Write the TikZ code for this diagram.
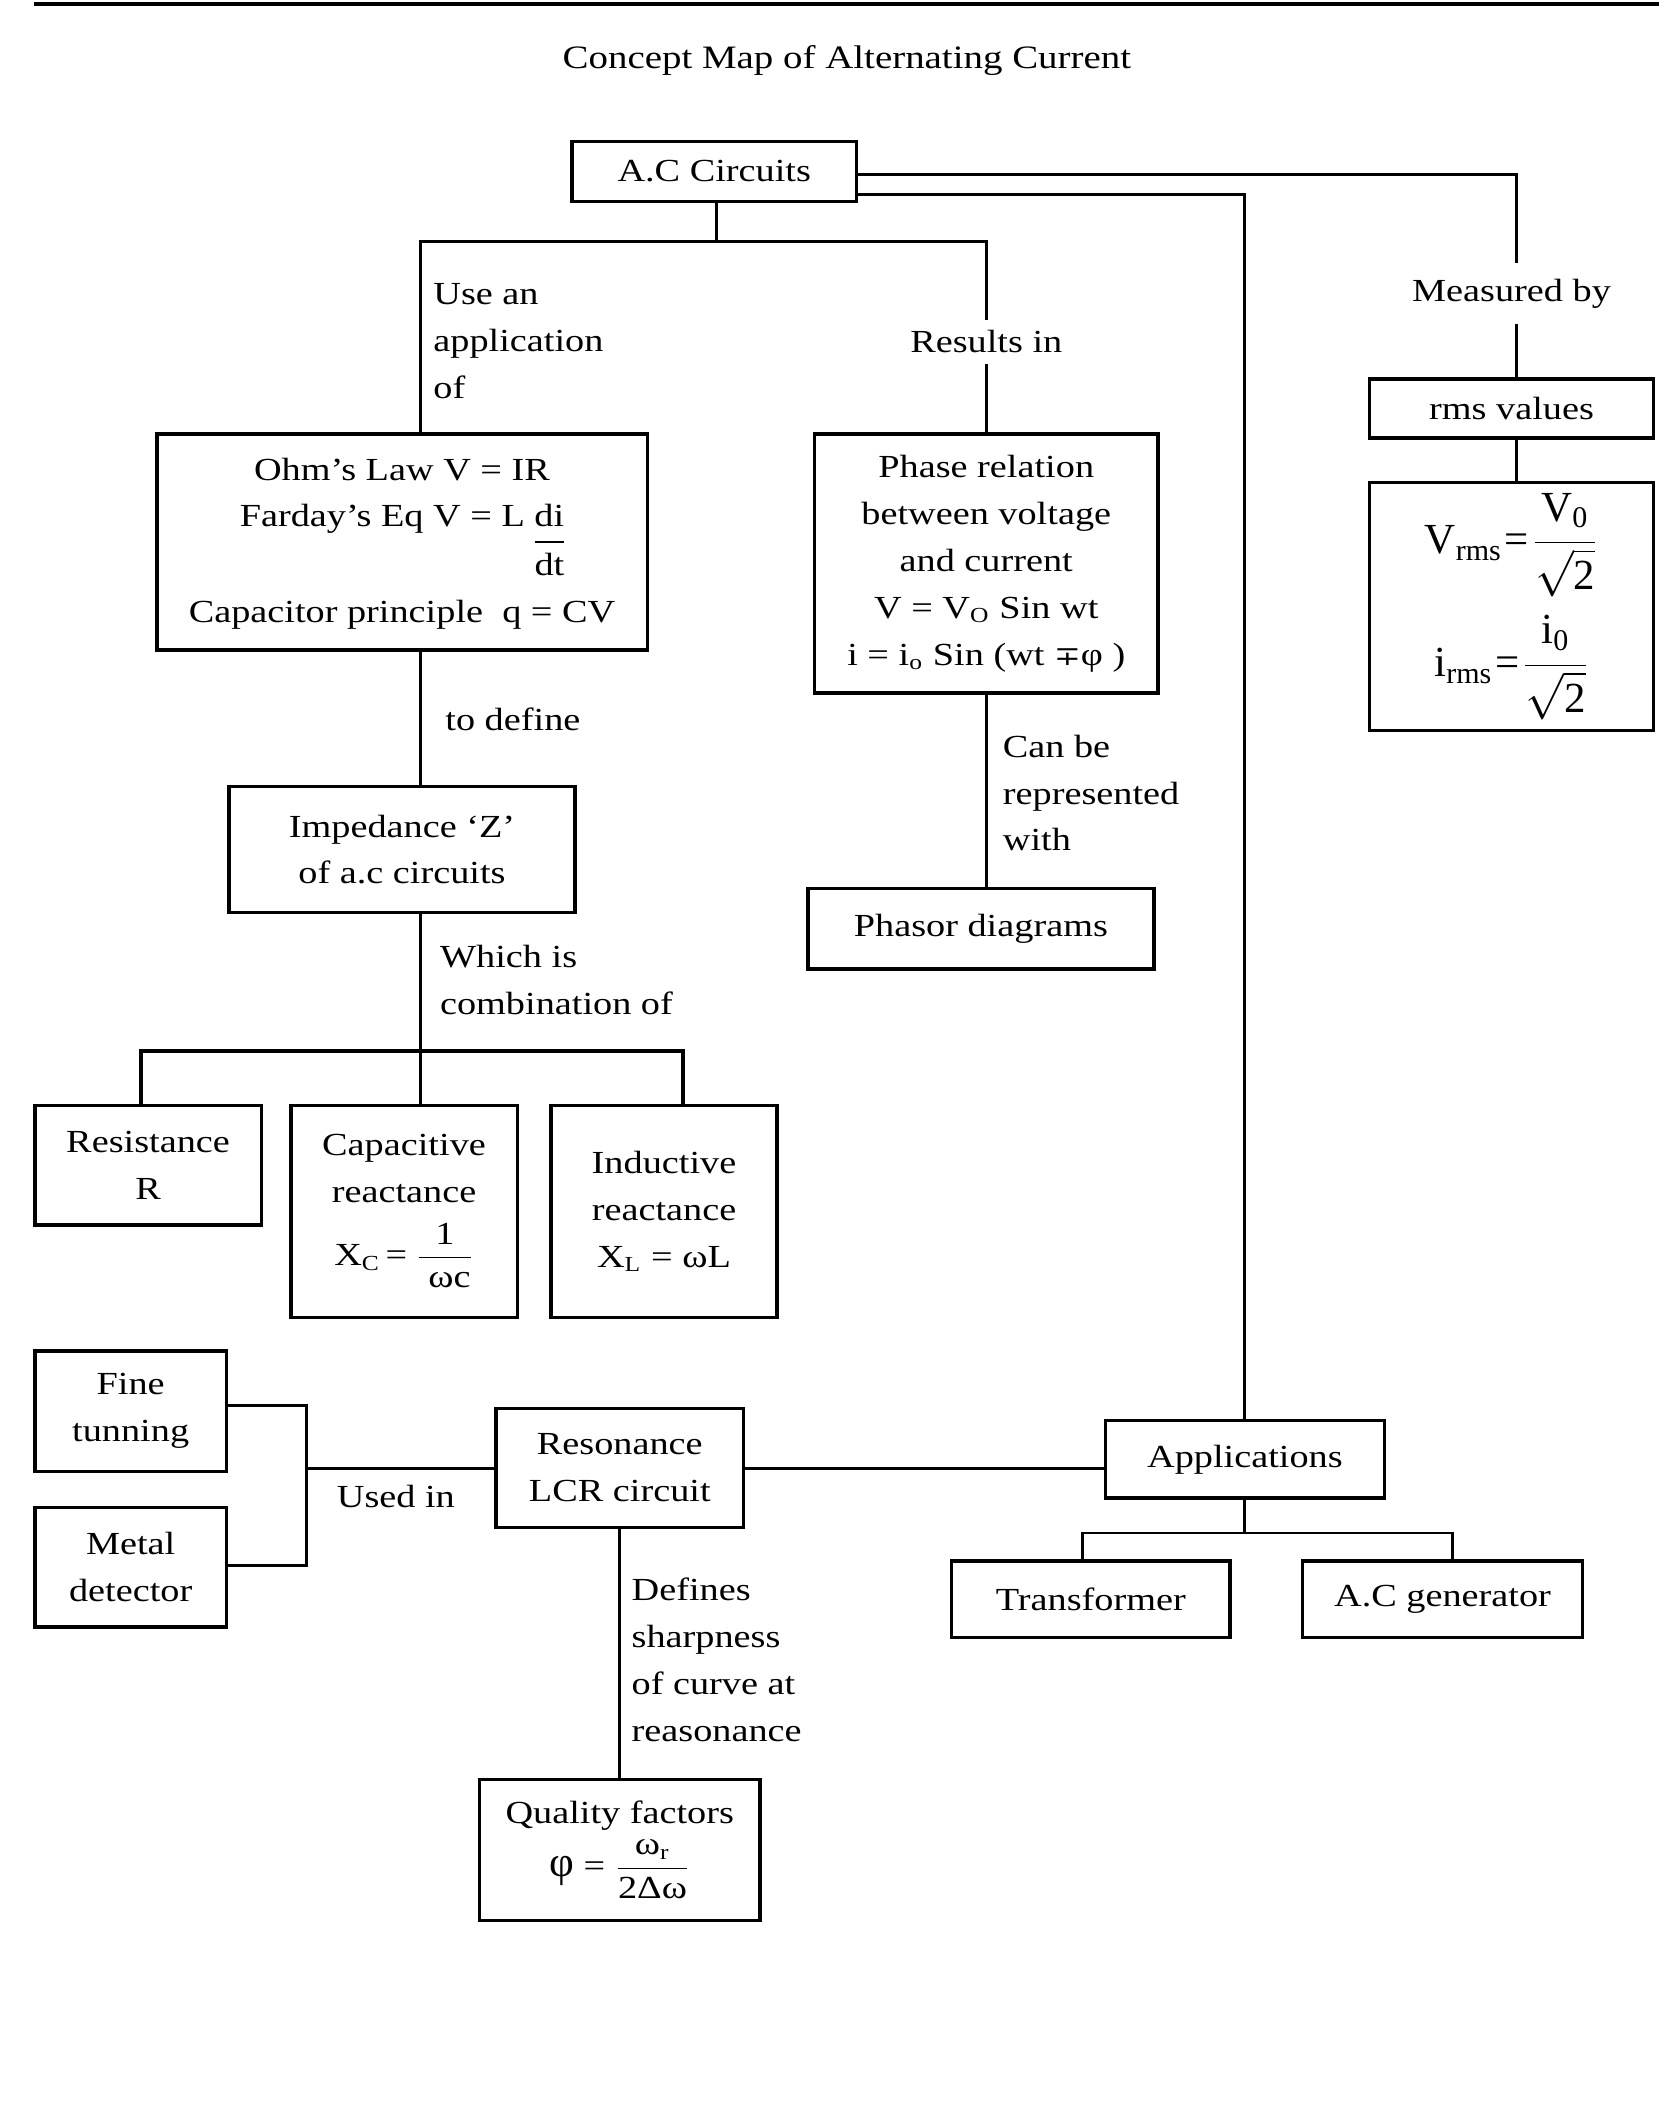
\documentclass[tikz,border=0pt]{standalone}
\usepackage{fontspec}
\setmainfont{Liberation Serif}[FakeStretch=1.19]
\newfontfamily\fm{Liberation Serif}
\newfontfamily\dv{DejaVu Serif}[FakeStretch=1.19]
\newcommand\fsz{\fontsize{12}{17.5}\selectfont}
\newcommand\upbox[1]{\mbox{\raisebox{0.5pt}{#1}}}
\newcommand\dnroot[1]{\mbox{\raisebox{-1.5pt}{$\sqrt{\mbox{#1}}$}}}
\begin{document}
\begin{tikzpicture}[x=0.5pt,y=-0.5pt,
  box/.style={draw,line width=1.3pt,align=center,inner sep=0pt,font=\fsz},
  conn/.style={line width=1.1pt},
  lbl/.style={anchor=north west,inner sep=0pt,align=left,font=\fsz},
  onl/.style={fill=white,inner xsep=1pt,inner ysep=4pt,font=\fsz}]
\useasboundingbox (0,0) rectangle (1250,1571.6);
% top rule and title
\draw[line width=1.5pt] (25,3) -- (1238,3);
\node[font=\fontsize{12.2}{15}\selectfont] (title) at (632,45) {Concept Map of Alternating Current};
% boxes
\node[box,minimum width=106pt,minimum height=22.5pt] (ac) at (533,128) {A.C Circuits};
\node[box,minimum width=106pt,minimum height=22pt] (rms) at (1128,305) {rms values};
\node[box,minimum width=106pt,minimum height=92.5pt] (rmsf) at (1128,452.5)
  {\fm\fontsize{16}{18}\selectfont V\textsubscript{rms}\kern1pt=\kern1pt$\displaystyle\frac{\upbox{V\textsubscript{0}}}{\dnroot{2}}$\\[6pt]
   \fm\fontsize{16}{18}\selectfont i\textsubscript{rms}\kern1pt=\kern1pt$\displaystyle\frac{\upbox{i\textsubscript{0}}}{\dnroot{2}}$};
\node[box,minimum width=183pt,minimum height=80.5pt] (ohm) at (300,404.5)
  {\setlength\arrayrulewidth{0.8pt}\begin{tabular}{@{}c@{}}Ohm’s Law V = IR\\
   Farday’s Eq V = L \begin{tabular}[t]{@{}c@{}}di\\\hline dt\end{tabular}\\
   Capacitor principle\ \ q = CV\end{tabular}};
\node[box,minimum width=128pt,minimum height=96.5pt] (phase) at (736,420.5)
  {Phase relation\\between voltage\\and current\\V = V\textsubscript{O} Sin wt\\i = i\textsubscript{o} Sin (wt {\dv\fontsize{10}{12}\selectfont ∓}φ )};
\node[box,minimum width=129pt,minimum height=30pt] (phasor) at (732,693) {Phasor diagrams};
\node[box,minimum width=129pt,minimum height=47pt] (imp) at (300,634) {Impedance ‘Z’\\of a.c circuits};
\node[box,minimum width=84.5pt,minimum height=44.5pt] (res) at (110.5,869.5) {Resistance\\R};
\node[box,minimum width=84.5pt,minimum height=79pt] (cap) at (301.5,904)
  {Capacitive\\reactance\\[6pt]X\textsubscript{C}\,=\;$\displaystyle\frac{\mbox{1}}{\mbox{\;ωc}}$};
\node[box,minimum width=84.5pt,minimum height=79pt] (ind) at (495.5,904)
  {Inductive\\reactance\\X\textsubscript{L} = ωL};
\node[box,minimum width=71.5pt,minimum height=45pt] (fine) at (97.5,1053) {Fine\\tunning};
\node[box,minimum width=71.5pt,minimum height=44.5pt] (metal) at (97.5,1169.5) {Metal\\detector};
\node[box,minimum width=92.5pt,minimum height=44.5pt] (reso) at (462.5,1095.5) {Resonance\\LCR circuit};
\node[box,minimum width=104pt,minimum height=29pt] (app) at (929,1089) {Applications};
\node[box,minimum width=104pt,minimum height=28.5pt] (trans) at (814,1193.5) {Transformer};
\node[box,minimum width=104.5pt,minimum height=28.5pt] (acg) at (1076.5,1193.5) {A.C generator};
\node[box,minimum width=104.5pt,minimum height=52.5pt] (qual) at (462.5,1380.5)
  {Quality factors\\[2pt]{\fm\fontsize{16}{17}\selectfont φ} = $\displaystyle\frac{\mbox{ω\textsubscript{r}}}{\mbox{2Δω}}$};
% junction coordinates
\coordinate (j1) at (535,180);
\coordinate (j2) at (314,784);
\coordinate (j3) at (929,1144);
\coordinate (bx) at (229,1096);
\coordinate (ohmT) at ([xshift=7pt]ohm.north);
\coordinate (ohmB) at ([xshift=7pt]ohm.south);
\coordinate (impT) at ([xshift=7pt]imp.north);
\coordinate (impB) at ([xshift=7pt]imp.south);
\coordinate (acE1) at ([yshift=-1pt]ac.east);
\coordinate (acE2) at ([yshift=-8.5pt]ac.east);
\coordinate (rmsT) at ([xshift=2pt]rms.north);
\coordinate (rmsB) at ([xshift=2pt]rms.south);
\coordinate (rmsfT) at ([xshift=2pt]rmsf.north);
\coordinate (resT) at ([xshift=-2.75pt]res.north);
\coordinate (capT) at ([xshift=6.25pt]cap.north);
\coordinate (indT) at ([xshift=7.25pt]ind.north);
\coordinate (fineE) at ([yshift=2pt]fine.east);
\coordinate (metalE) at ([yshift=0.75pt]metal.east);
\coordinate (transT) at ([xshift=-3pt]trans.north);
\coordinate (acgT) at ([xshift=3.75pt]acg.north);
% connectors
\draw[conn] (ac.south -| j1) -- (j1);
\draw[conn] (ohmT) |- (j1) -| (phase.north);
\draw[conn] (acE1) -| (rmsT);
\draw[conn] (acE2) -| (app.north);
\draw[conn] (rmsB) -- (rmsfT);
\draw[conn] (ohmB) -- (impT);
\draw[conn] (phase.south) -- (phase.south |- phasor.north);
\draw[conn] (impB) -- (j2);
\draw[conn,line width=1.5pt] (resT) |- (j2) -| (indT);
\draw[conn] (j2) -- (capT);
\draw[conn] (fineE) -| (bx) |- (metalE);
\draw[conn] (bx) -- (bx -| reso.west);
\draw[conn] (reso.east |- bx) -- (bx -| app.west);
\draw[conn] (app.south) -- (j3);
\draw[conn] (transT) |- (j3) -| (acgT);
\draw[conn] (reso.south) -- (reso.south |- qual.north);
% labels
\node[lbl] (l1) at (323,211) {Use an\\application\\of};
\node[onl] (l2) at (736,255) {Results in};
\node[onl,inner ysep=6pt] (l3) at (1128,219) {Measured by};
\node[lbl] (l4) at (332,528) {to define};
\node[lbl] (l5) at (748,548) {Can be\\represented\\with};
\node[lbl] (l6) at (328,705) {Which is\\combination of};
\node[lbl] (l7) at (251,1108) {Used in};
\node[lbl] (l8) at (471,1177) {Defines\\sharpness\\of curve at\\reasonance};
\end{tikzpicture}
\end{document}
